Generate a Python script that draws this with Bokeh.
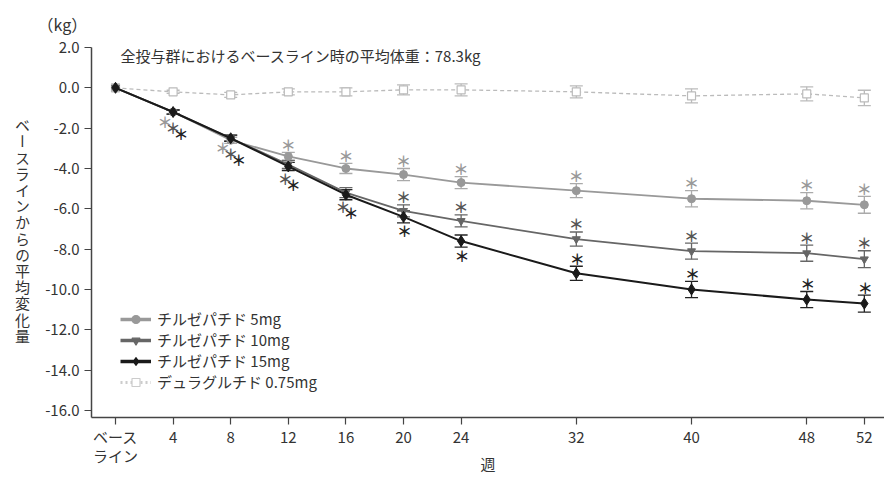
from bokeh.plotting import figure
from bokeh.models import (ColumnDataSource, Whisker, TeeHead, FixedTicker, Div, Title,
                          NumeralTickFormatter, Legend, LegendItem, Range1d)
from bokeh.layouts import row
from bokeh.core.properties import value
from bokeh.embed import file_html
from bokeh.resources import INLINE

# ---------------- data ----------------
weeks = [0, 4, 8, 12, 16, 20, 24, 32, 40, 48, 52]
tick_labels = {0: "ベース\nライン"}

tirz5 = [0, -1.2, -2.6, -3.4, -4.0, -4.3, -4.7, -5.1, -5.5, -5.6, -5.8]
tirz5_se = [0, 0.1, 0.15, 0.2, 0.25, 0.3, 0.3, 0.35, 0.4, 0.4, 0.42]
tirz10 = [0, -1.2, -2.5, -3.8, -5.2, -6.1, -6.6, -7.5, -8.1, -8.2, -8.5]
tirz10_se = [0, 0.1, 0.15, 0.2, 0.25, 0.3, 0.3, 0.35, 0.4, 0.4, 0.42]
tirz15 = [0, -1.2, -2.5, -3.9, -5.3, -6.4, -7.6, -9.2, -10.0, -10.5, -10.7]
tirz15_se = [0, 0.1, 0.15, 0.2, 0.25, 0.3, 0.3, 0.35, 0.4, 0.4, 0.42]
dula = [0, -0.2, -0.35, -0.2, -0.2, -0.1, -0.1, -0.2, -0.4, -0.3, -0.5]
dula_se = [0, 0.08, 0.12, 0.15, 0.2, 0.25, 0.3, 0.3, 0.35, 0.35, 0.38]

sig5_weeks = [4, 8, 12, 16, 20, 24, 32, 40, 48, 52]
sig10_weeks = [4, 8, 12, 16, 20, 24, 32, 40, 48, 52]
sig15_weeks = [4, 8, 12, 16, 20, 24, 32, 40, 48, 52]

names = ["チルゼパチド 5mg", "チルゼパチド 10mg", "チルゼパチド 15mg", "デュラグルチド 0.75mg"]
note_text = "全投与群におけるベースライン時の平均体重：78.3kg"
unit_text = "（kg）"
ylabel_text = "ベースラインからの平均変化量"
xlabel_text = "週"

FONT = "Noto Sans CJK JP"
TXT = "#333333"

LW = 36                      # width of the left column holding the vertical label
W, H = 884 - LW, 477
FL, FT, FB = 91, 47, 417     # frame left / top / bottom (page px)
p = figure(width=W, height=H, output_backend="svg", toolbar_location=None,
           x_range=Range1d(-1.667, 53.4), y_range=Range1d(-16.35, 2.0),
           min_border_left=FL - LW, min_border_right=0, min_border_top=FT,
           min_border_bottom=H - FB, margin=0)
p.outline_line_color = None
p.grid.visible = False

p.title = Title(text=unit_text, align="left", offset=-54, standoff=20,
                vertical_align="top",
                text_font=FONT, text_font_size="16px", text_font_style="normal",
                text_color=TXT)

for ax in (p.xaxis[0], p.yaxis[0]):
    ax.axis_line_color = "#444444"
    ax.axis_line_width = 1.5
    ax.major_tick_line_color = "#444444"
    ax.major_tick_line_width = 1.2
    ax.major_tick_out = 7
    ax.major_tick_in = 0
    ax.minor_tick_line_color = None
    ax.major_label_text_font = FONT
    ax.major_label_text_font_size = "15px"
    ax.major_label_text_color = TXT

p.xaxis.ticker = FixedTicker(ticks=weeks)
p.xaxis.major_label_overrides = tick_labels
p.xaxis.major_label_text_line_height = 0.92
p.xaxis.major_label_standoff = 1
p.xaxis.axis_label = xlabel_text
p.xaxis.axis_label_text_font = FONT
p.xaxis.axis_label_text_font_size = "15px"
p.xaxis.axis_label_text_font_style = "normal"
p.xaxis.axis_label_text_color = TXT
p.xaxis.axis_label_standoff = -16
p.yaxis.ticker = FixedTicker(ticks=[v * 2.0 for v in range(-8, 2)])
p.yaxis.formatter = NumeralTickFormatter(format="0.0")
p.yaxis.major_label_standoff = 5

series = [
    (tirz5, tirz5_se, "#999999", "#aaaaaa", "circle", 8, 1.8, "solid"),
    (tirz10, tirz10_se, "#666666", "#666666", "inverted_triangle", 8, 1.8, "solid"),
    (tirz15, tirz15_se, "#1a1a1a", "#222222", "diamond", 11, 2.0, "solid"),
    (dula, dula_se, "#bbbbbb", "#bbbbbb", "square", 8, 1.3, "4 3"),
]

for i in [3, 0, 1, 2]:
    vals, se, col, ecol, mk, ms, lw, dash = series[i]
    src = ColumnDataSource(dict(x=weeks, y=vals))
    idx = [k for k in range(len(weeks)) if se[k] > 0]
    esrc = ColumnDataSource(dict(x=[weeks[k] for k in idx],
                                 up=[vals[k] + se[k] for k in idx],
                                 lo=[vals[k] - se[k] for k in idx]))
    w = Whisker(source=esrc, base="x", upper="up", lower="lo",
                line_color=ecol, line_width=1.3,
                upper_head=TeeHead(size=13, line_color=ecol, line_width=1.3),
                lower_head=TeeHead(size=13, line_color=ecol, line_width=1.3))
    p.add_layout(w)
    p.line("x", "y", source=src, line_color=col, line_width=lw, line_dash=dash)
    if mk == "square":
        p.scatter("x", "y", source=src, marker=mk, size=ms, fill_color="white",
                  line_color=col, line_width=1.2)
    else:
        p.scatter("x", "y", source=src, marker=mk, size=ms, fill_color=col,
                  line_color=col)

# legend-only renderers (bigger glyphs, as in the reference legend)
leg_style = [
    ("#999999", "circle", 12, 3.5, "solid", "#999999"),
    ("#666666", "inverted_triangle", 12, 3.5, "solid", "#666666"),
    ("#1a1a1a", "diamond", 15, 3.5, "solid", "#1a1a1a"),
    ("#cccccc", "square", 14, 3, "2 3", "white"),
]
items = []
nan = float("nan")
for i, (col, mk, ms, lw, dash, fill) in enumerate(leg_style):
    es = ColumnDataSource(dict(x=[nan], y=[nan]))
    l = p.line("x", "y", source=es, line_color=col, line_width=lw, line_dash=dash)
    s = p.scatter("x", "y", source=es, marker=mk, size=ms, fill_color=fill,
                  line_color=col, line_width=1.2)
    items.append(LegendItem(label=names[i], renderers=[l, s]))

legend = Legend(items=items, location=(29, 25))
legend.border_line_color = None
legend.background_fill_alpha = 0
legend.padding = 0
legend.spacing = 0
legend.margin = 0
legend.label_height = 20
legend.glyph_height = 20
legend.glyph_width = 31
legend.label_standoff = 6
legend.label_text_font = FONT
legend.label_text_font_size = "15px"
legend.label_text_color = TXT
p.add_layout(legend)

# ---------------- significance asterisks ----------------
ast_cols = ["#999999", "#555555", "#222222"]
ax_, ay_, axo, ayo, acol = [], [], [], [], []
def add(x, y, xo, yo, c):
    ax_.append(x); ay_.append(y); axo.append(xo); ayo.append(yo); acol.append(c)

for wk in sig5_weeks:
    k = weeks.index(wk)
    if wk <= 8:
        add(wk, tirz15[k], -8, 9, ast_cols[0])
    else:
        add(wk, tirz5[k] + tirz5_se[k], 0, -8, ast_cols[0])
for wk in sig10_weeks:
    k = weeks.index(wk)
    if wk <= 8:
        add(wk, tirz15[k], 0, 15, ast_cols[1])
    elif wk <= 16:
        add(wk, tirz15[k], -3, 12, ast_cols[1])
    else:
        add(wk, tirz10[k] + tirz10_se[k], 0, -8, ast_cols[1])
for wk in sig15_weeks:
    k = weeks.index(wk)
    if wk <= 8:
        add(wk, tirz15[k], 8, 21, ast_cols[2])
    elif wk <= 16:
        add(wk, tirz15[k], 5, 18, ast_cols[2])
    elif wk <= 24:
        add(wk, tirz15[k] - tirz15_se[k], 1, 8, ast_cols[2])
    else:
        add(wk, tirz15[k] + tirz15_se[k], 1, -8, ast_cols[2])

asrc = ColumnDataSource(dict(x=ax_, y=ay_, xo=axo, yo=ayo, c=acol, t=["＊"] * len(ax_)))
p.text("x", "y", text="t", source=asrc, x_offset="xo", y_offset="yo", text_color="c",
       text_font=value(FONT), text_font_size="15px", text_font_style="bold",
       text_align="center", text_baseline="middle")

# note inside the frame (data-positioned text)
p.text(x=[0.35], y=[1.6], text=[note_text], text_font=value(FONT), text_font_size="15px",
       text_color=TXT, text_align="left", text_baseline="middle")

# ---------------- vertical (upright) y-axis title ----------------
ydiv = Div(width=LW, height=H, margin=0,
           text=('<div style="margin-top:118px;margin-left:12px;writing-mode:vertical-rl;'
                 'text-orientation:upright;font-family:\'Noto Sans CJK JP\';font-size:15px;'
                 'line-height:20px;letter-spacing:1.2px;color:#333333;">'
                 + ylabel_text + '</div>'))

layout = row(ydiv, p, spacing=0)
open("out.html", "w").write(file_html(layout, INLINE))
